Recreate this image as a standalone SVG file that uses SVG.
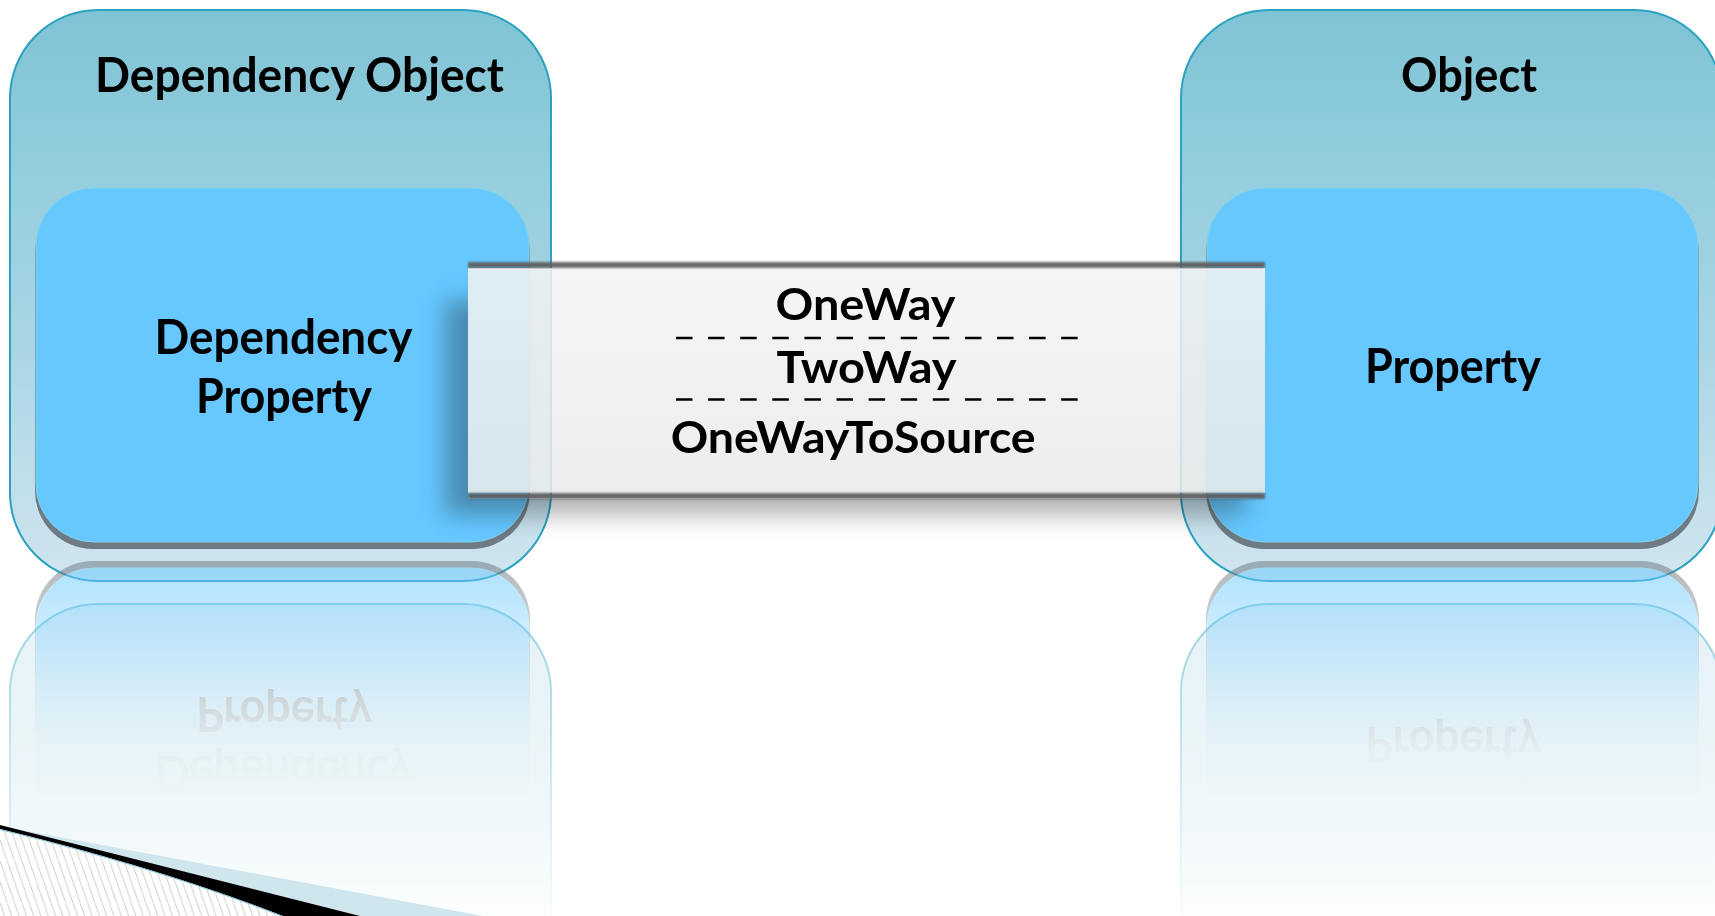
<svg xmlns="http://www.w3.org/2000/svg" width="1715" height="916" viewBox="0 0 1715 916">
<defs>
<style>
.lbl{font-family:Lato,"Open Sans","Liberation Sans",sans-serif;font-weight:700;font-size:47px;fill:#000}
.mode{font-size:44px}
.outer{fill:url(#outerGrad);stroke:#2ba2c0;stroke-width:2}
.ishadow{fill:#6f7b84}
.inner{fill:#66c8ff;stroke:#80d3ea;stroke-width:1}
.dash{stroke:#000;stroke-width:2.6;stroke-dasharray:16.5 15.6;fill:none}
.edge{fill:#5d5d5d}
</style>
<linearGradient id="outerGrad" x1="0" y1="0" x2="0" y2="1">
<stop offset="0" stop-color="#7ec3d5"/>
<stop offset="0.3" stop-color="#95cede"/>
<stop offset="0.6" stop-color="#aad6e4"/>
<stop offset="1" stop-color="#d1e5ef"/>
</linearGradient>
<linearGradient id="bandGrad" x1="0" y1="0" x2="0" y2="1">
<stop offset="0" stop-color="#f3f3f3"/>
<stop offset="1" stop-color="#eaeaea"/>
</linearGradient>
<linearGradient id="edgeGrad" x1="0" y1="0" x2="0" y2="1">
<stop offset="0" stop-color="#4e4e4e"/>
<stop offset="1" stop-color="#858585"/>
</linearGradient>
<linearGradient id="fadeInner" gradientUnits="userSpaceOnUse" x1="0" y1="561" x2="0" y2="800">
<stop offset="0" stop-color="#fff" stop-opacity="0.55"/>
<stop offset="0.37" stop-color="#fff" stop-opacity="0.27"/>
<stop offset="0.58" stop-color="#fff" stop-opacity="0.12"/>
<stop offset="0.78" stop-color="#fff" stop-opacity="0.03"/>
<stop offset="1" stop-color="#fff" stop-opacity="0"/>
</linearGradient>
<linearGradient id="fadeOuter" gradientUnits="userSpaceOnUse" x1="0" y1="604" x2="0" y2="916">
<stop offset="0" stop-color="#fff" stop-opacity="0.5"/>
<stop offset="1" stop-color="#fff" stop-opacity="0.03"/>
</linearGradient>
<mask id="mInner" maskUnits="userSpaceOnUse" x="0" y="0" width="1715" height="916">
<rect x="0" y="550" width="1715" height="366" fill="url(#fadeInner)"/>
</mask>
<mask id="mOuter" maskUnits="userSpaceOnUse" x="0" y="0" width="1715" height="916">
<rect x="0" y="590" width="1715" height="326" fill="url(#fadeOuter)"/>
</mask>
<mask id="mNoBand" maskUnits="userSpaceOnUse" x="0" y="0" width="1715" height="916">
<rect x="0" y="0" width="1715" height="916" fill="#fff"/>
<rect x="468" y="262" width="797" height="237" fill="#000"/>
</mask>
<filter id="blur12" x="-20%" y="-30%" width="140%" height="160%"><feGaussianBlur stdDeviation="12"/></filter>
<filter id="blur1" x="-5%" y="-100%" width="110%" height="300%"><feGaussianBlur stdDeviation="0.8"/></filter>
<pattern id="hatch" patternUnits="userSpaceOnUse" width="7.3" height="21">
<rect width="7.3" height="21" fill="#fff"/>
<path d="M-7.3 -21 L14.6 42" stroke="#bdbdbd" stroke-width="0.8"/>
</pattern>
</defs>

<rect width="1715" height="916" fill="#fff"/>

<g id="outer-reflections" mask="url(#mOuter)">
<use href="#leftOuterBox" transform="matrix(1 0 0 -1 0 1185)"/>
<use href="#rightOuterBox" transform="matrix(1 0 0 -1 0 1185)"/>
</g>

<g id="dependency-object">
<rect id="leftOuterBox" class="outer" x="10" y="10" width="541" height="571" rx="88" ry="88"/>
<text class="lbl" x="95" y="92" textLength="409" lengthAdjust="spacingAndGlyphs">Dependency Object</text>
</g>

<g id="object">
<rect id="rightOuterBox" class="outer" x="1181" y="10" width="541" height="571" rx="88" ry="88"/>
<text class="lbl" x="1401" y="92" textLength="136" lengthAdjust="spacingAndGlyphs">Object</text>
</g>

<g id="inner-reflections" mask="url(#mInner)">
<use href="#dependency-property" transform="matrix(1 0 0 -1 0 1110)"/>
<use href="#property" transform="matrix(1 0 0 -1 0 1110)"/>
</g>

<g id="dependency-property">
<rect class="ishadow" x="35" y="195" width="495" height="354" rx="58" ry="58"/>
<rect class="inner" x="36" y="188" width="493" height="354" rx="58" ry="58"/>
<text class="lbl" x="154.5" y="354" textLength="258" lengthAdjust="spacingAndGlyphs">Dependency</text>
<text class="lbl" x="196" y="412.5" textLength="176" lengthAdjust="spacingAndGlyphs">Property</text>
</g>

<g id="property">
<rect class="ishadow" x="1206" y="195" width="493" height="354" rx="58" ry="58"/>
<rect class="inner" x="1207" y="188" width="491" height="354" rx="58" ry="58"/>
<text class="lbl" x="1365" y="383" textLength="176" lengthAdjust="spacingAndGlyphs">Property</text>
</g>

<g id="binding-modes">
<g mask="url(#mNoBand)">
<rect x="445" y="300" width="800" height="215" fill="#000" opacity="0.3" filter="url(#blur12)"/>
</g>
<rect x="468" y="268" width="797" height="225" fill="url(#bandGrad)" opacity="0.86"/>
<rect x="468" y="268" width="797" height="2" fill="#fbfbfb" opacity="0.8"/>
<rect class="edge" x="468" y="262" width="797" height="6" fill="url(#edgeGrad)" opacity="0.92" filter="url(#blur1)"/>
<rect class="edge" x="468" y="493" width="797" height="6" fill="url(#edgeGrad)" opacity="0.92" filter="url(#blur1)"/>
<text class="lbl mode" x="775.5" y="320" textLength="180" lengthAdjust="spacingAndGlyphs">OneWay</text>
<line class="dash" x1="676" y1="338" x2="1078" y2="338"/>
<text class="lbl mode" x="776.6" y="383" textLength="180" lengthAdjust="spacingAndGlyphs">TwoWay</text>
<line class="dash" x1="676" y1="399.5" x2="1078" y2="399.5"/>
<text class="lbl mode" x="670.7" y="453" textLength="365" lengthAdjust="spacingAndGlyphs">OneWayToSource</text>
</g>

<g id="connectors"></g>

<g id="corner-decoration">
<polygon points="0,826 483,916 360,916 0,829" fill="#d0e6ef"/>
<path d="M0,829 Q160,868 283,916 L0,916 Z" fill="url(#hatch)"/>
<path d="M0,825 L360,916 L283,916 Q160,868 0,829 Z" fill="#000"/>
<path d="M0,829.5 Q160,868.5 283,916.5" fill="none" stroke="#7fc3da" stroke-width="1"/>
</g>
</svg>
